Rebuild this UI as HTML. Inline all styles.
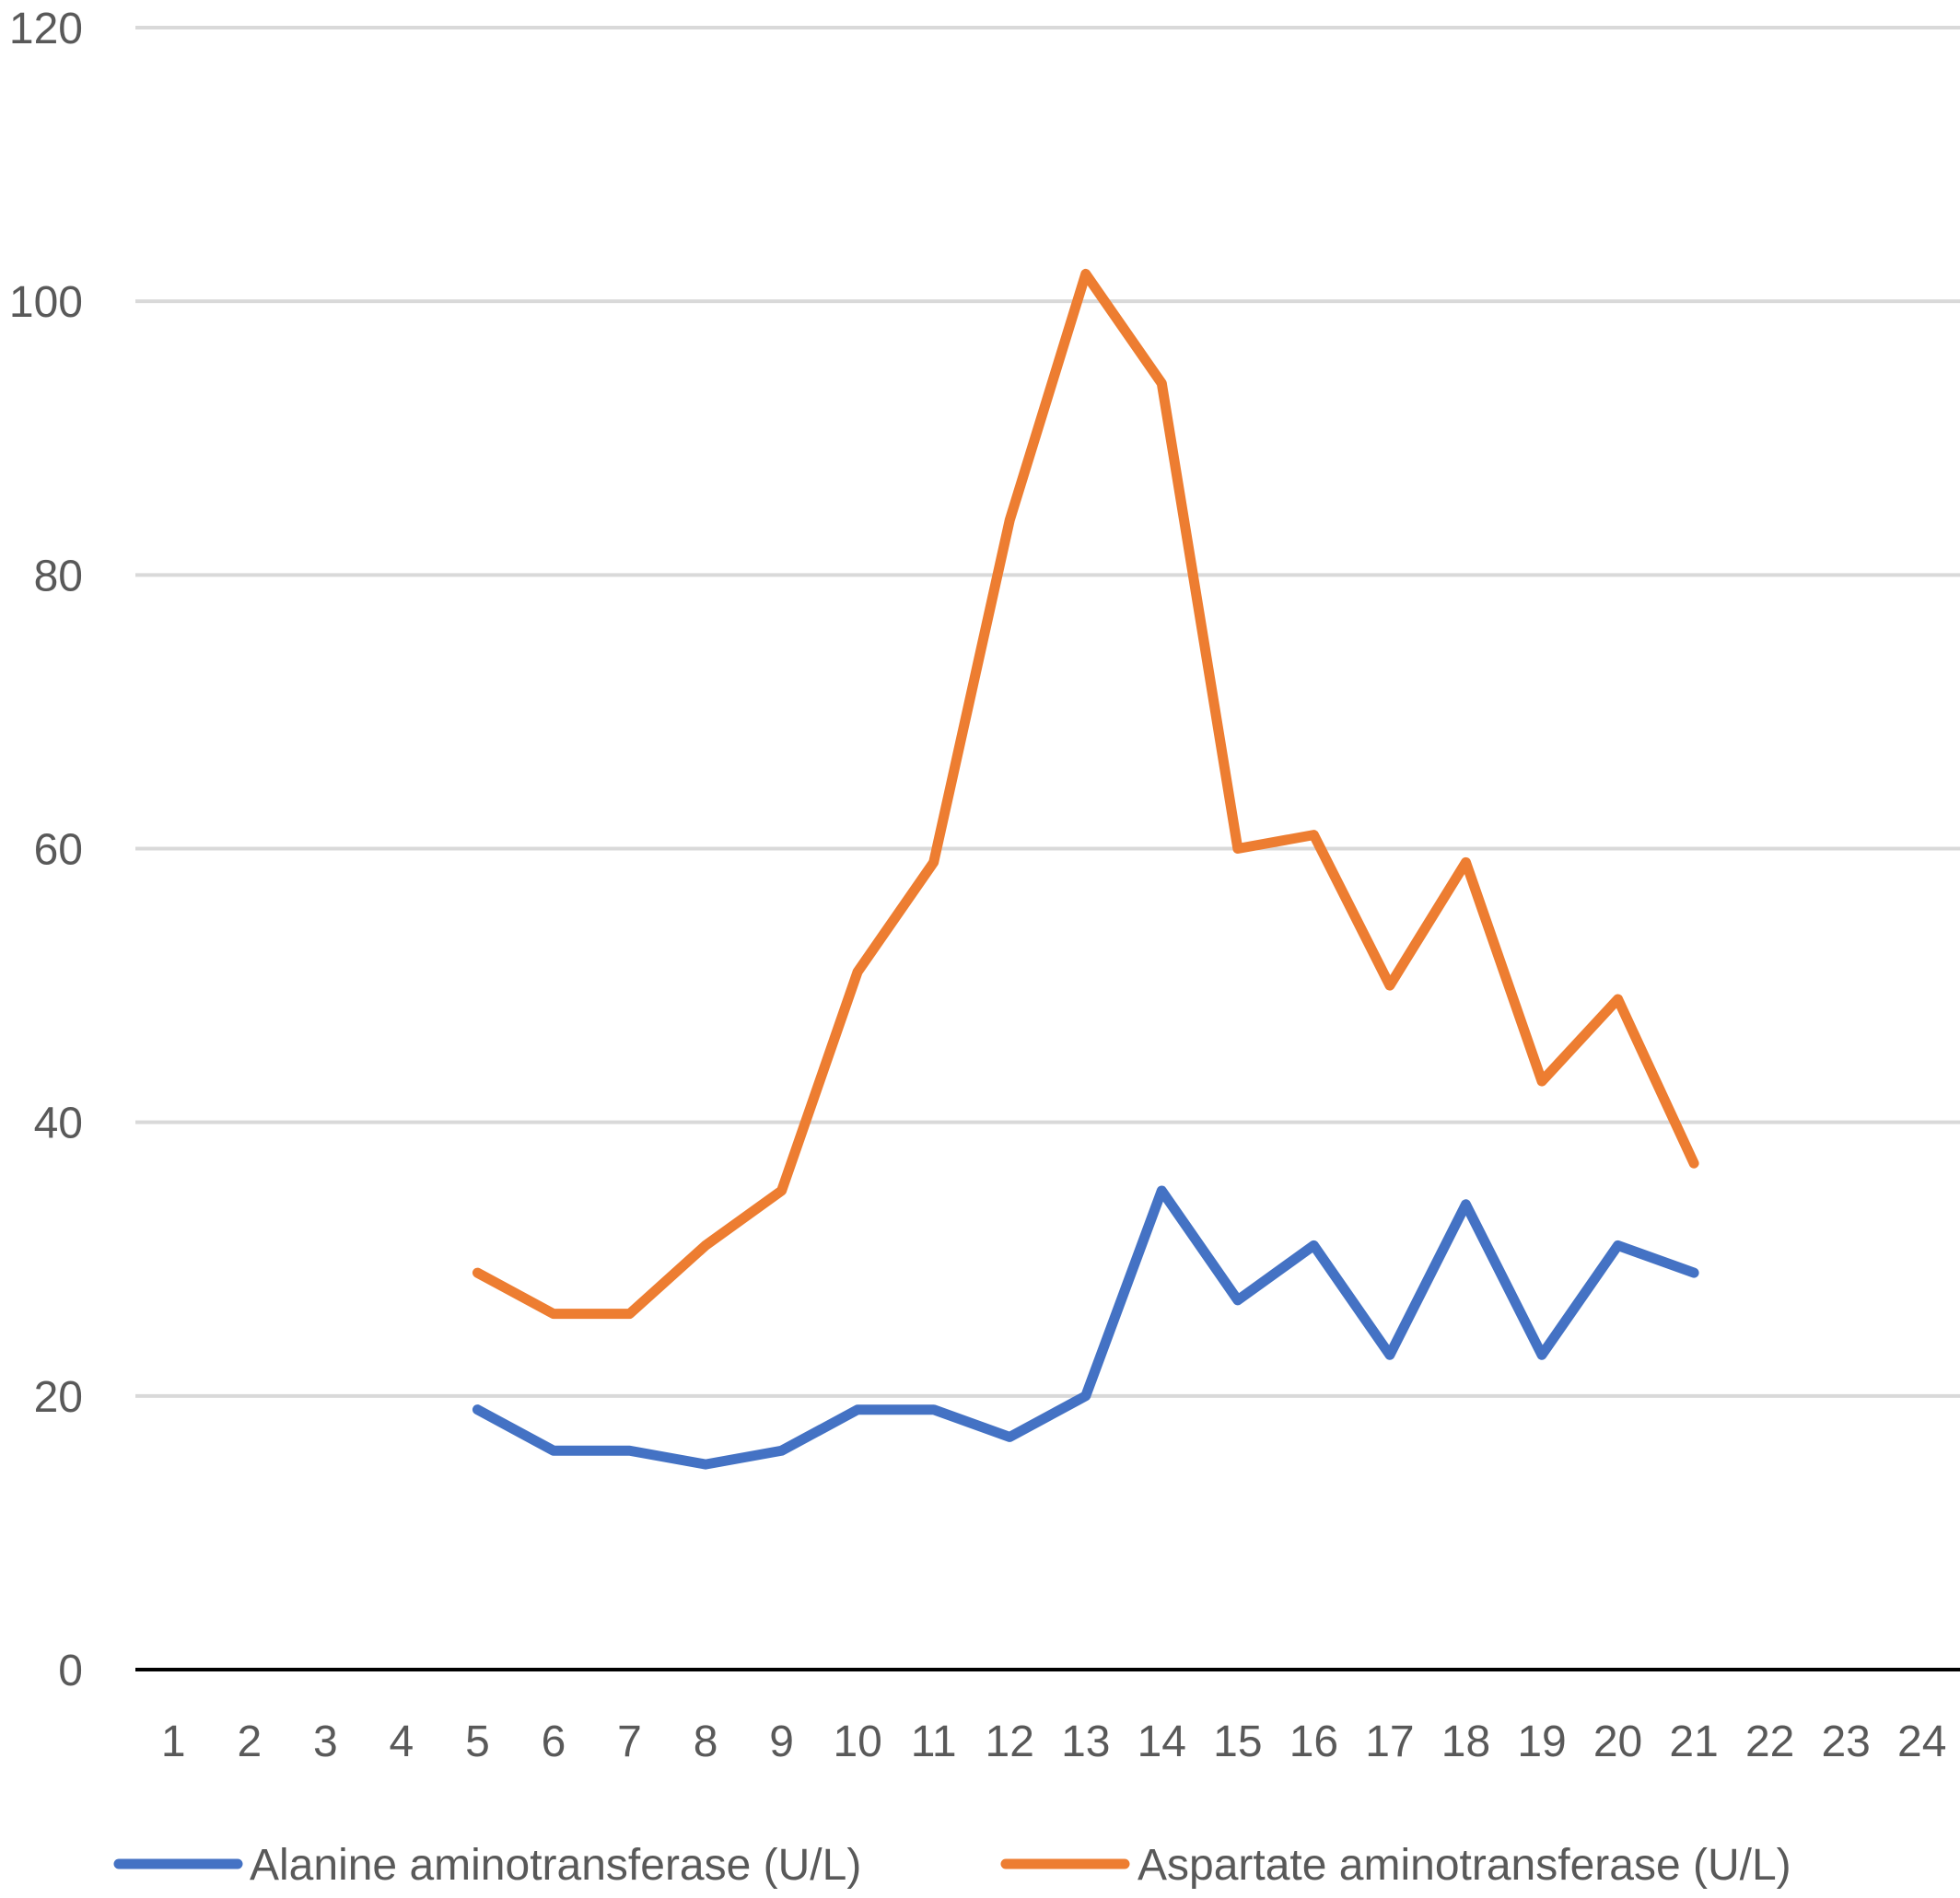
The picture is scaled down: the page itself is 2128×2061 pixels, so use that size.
<!DOCTYPE html>
<html><head><meta charset="utf-8"><style>
html,body{margin:0;padding:0;background:#fff;}
svg{display:block;font-family:"Liberation Sans",sans-serif;}
</style></head><body>
<svg id="chart" width="2128" height="2061" viewBox="0 0 2128 2061" xmlns="http://www.w3.org/2000/svg">
<g id="grid"></g>
<g id="yticks"></g>
<g id="xticks"></g>
<g id="series"></g>
<g>
<line x1="129" y1="2024" x2="258" y2="2024" stroke="#4472C4" stroke-width="11" stroke-linecap="round"/>
<text x="271" y="2041" font-size="48" fill="#595959">Alanine aminotransferase (U/L)</text>
<line x1="1092" y1="2024" x2="1221" y2="2024" stroke="#ED7D31" stroke-width="11" stroke-linecap="round"/>
<text x="1235" y="2041" font-size="48" fill="#595959">Aspartate aminotransferase (U/L)</text>
</g>
</svg>
<script>
const categories = ["1","2","3","4","5","6","7","8","9","10","11","12","13","14","15","16","17","18","19","20","21","22","23","24"];
const altValues = [null,null,null,null,19,16,16,15,16,19,19,17,20,35,27,31,23,34,23,31,29,null,null,null];
const astValues = [null,null,null,null,29,26,26,31,35,51,59,84,102,94,60,61,50,59,43,49,37,null,null,null];
const yTicks = [0,20,40,60,80,100,120];

const NS="http://www.w3.org/2000/svg";
const left=147,right=2128,y0=1813,yTop=30;
const step=(right-left)/categories.length;
function xScale(i){return left+step*(i+0.5);}
function yScale(v){return y0-(v/120)*(y0-yTop);}

const grid=document.getElementById('grid'),yt=document.getElementById('yticks'),xt=document.getElementById('xticks'),ser=document.getElementById('series');
yTicks.forEach(v=>{
  const l=document.createElementNS(NS,'line');
  
  
  l.setAttribute('x1',left);l.setAttribute('x2',right);
  l.setAttribute('y1',yScale(v));l.setAttribute('y2',yScale(v));
  l.setAttribute('stroke',v===0?'#000':'#d9d9d9');l.setAttribute('stroke-width',v===0?4:4);
  grid.appendChild(l);
  const t=document.createElementNS(NS,'text');
  
  
  t.setAttribute('x',90);t.setAttribute('y',yScale(v)+17);
  t.setAttribute('text-anchor','end');t.setAttribute('font-size','48');t.setAttribute('fill','#595959');
  t.textContent=v;yt.appendChild(t);
});
categories.forEach((c,i)=>{
  const t=document.createElementNS(NS,'text');
  
  
  t.setAttribute('x',xScale(i));t.setAttribute('y',1907);
  t.setAttribute('text-anchor','middle');t.setAttribute('font-size','48');t.setAttribute('fill','#595959');
  t.textContent=c;xt.appendChild(t);
});
function drawLine(vals,color,name){
  const pts=[];vals.forEach((v,i)=>{if(v!==null)pts.push(xScale(i)+','+yScale(v));});
  const p=document.createElementNS(NS,'polyline');
  
  
  p.setAttribute('points',pts.join(' '));p.setAttribute('fill','none');
  p.setAttribute('stroke',color);p.setAttribute('stroke-width','11');
  p.setAttribute('stroke-linejoin','round');p.setAttribute('stroke-linecap','round');
  ser.appendChild(p);
}
drawLine(altValues,'#4472C4','alt-line');
drawLine(astValues,'#ED7D31','ast-line');
</script>
</body></html>
